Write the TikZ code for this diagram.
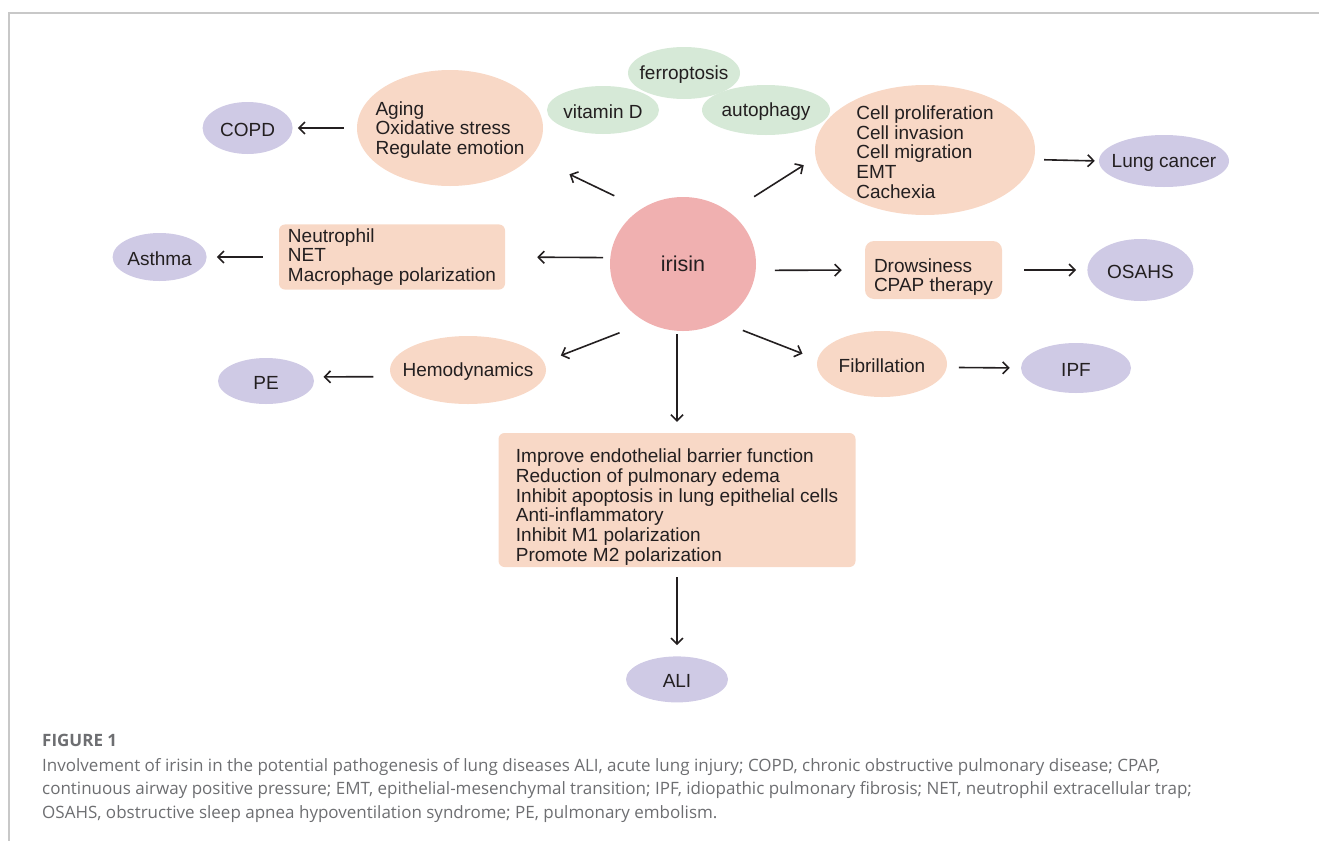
\documentclass[tikz,border=0pt]{standalone}
\usepackage{fontspec}
\setmainfont{Liberation Sans}
\newfontfamily\capfont{Open Sans}
\usepackage{xcolor}
\usetikzlibrary{positioning}
\usetikzlibrary{shapes}
\usetikzlibrary{arrows.meta}
\tikzset{>={Straight Barb[length=6pt,width=12pt]}}
\definecolor{illcol}{HTML}{CFCAE5}
\definecolor{effcol}{HTML}{F8D8C6}
\definecolor{routecol}{HTML}{D6E9D7}
\definecolor{hubcol}{HTML}{F0B0B0}
\definecolor{ink}{HTML}{231F20}
\definecolor{rulecol}{HTML}{C8C8C8}
\definecolor{capgray}{HTML}{6D6E71}

\begin{document}
\begin{tikzpicture}[
            x=1pt, y=-1pt,
            font=\fontsize{19pt}{19.7pt}\selectfont, text=ink,
            every label/.append style={align=left, yshift=-2pt},
            ill/.style 2 args={ellipse, fill=illcol, minimum width=#1, minimum height=#2, inner sep=0pt},
            eff/.style 2 args={ellipse, fill=effcol, minimum width=#1, minimum height=#2, inner sep=0pt},
            route/.style 2 args={ellipse, fill=routecol, minimum width=#1, minimum height=#2, inner sep=0pt},
            effbox/.style={rectangle, rounded corners=6pt, fill=effcol, align=left, inner sep=4pt},
            link/.style={->, line width=1.6pt, ink}
        ]
        \useasboundingbox (0,0) rectangle (1319,841);
        \draw[rulecol, line width=1.2pt] (1319,13) -- (9,13) -- (9,841);
        \node[ellipse, fill=hubcol, minimum width=146, minimum height=134, inner sep=0pt, font=\fontsize{21.5pt}{22pt}\selectfont] (irisin) at (683,264) {irisin};
        \node[eff={186}{116}, label={center:Aging\\Oxidative stress\\Regulate emotion}] (aging) at (450,128) {};
        \node[ill={90}{52}, left=64pt of aging, label=center:COPD] (copd) {};
        \node[route={112}{52}, label=center:ferroptosis] (ferro) at (684,73) {};
        \node[route={112}{48}, label=center:vitamin D] (vitd) at (603,110) {};
        \node[route={128}{50}, label=center:autophagy] (autoph) at (766,110) {};
        \node[eff={220}{130}, label={center:Cell proliferation\\Cell invasion\\Cell migration\\EMT\\Cachexia}] (cell) at (925,150) {};
        \node[ill={130}{52}, label=center:Lung cancer] (lung) at (1164,161) {};
        \node[effbox, minimum width=226, minimum height=63] (neutro) at (392,257) {Neutrophil\\NET\\Macrophage polarization};
        \node[ill={94}{48}, left=72pt of neutro, label=center:Asthma] (asthma) {};
        \node[effbox, rounded corners=9pt, minimum width=137, minimum height=58, label={[yshift=-5pt]center:Drowsiness\\CPAP therapy}] (drowsy) at (933.5,270) {};
        \node[ill={106}{62}, right=85pt of drowsy, label=center:OSAHS] (osahs) {};
        \node[eff={156}{68}, label=center:Hemodynamics] (hemo) at (468,370) {};
        \node[ill={96}{46}, label=center:PE] (pe) at (266,381) {};
        \node[eff={130}{66}, label=center:Fibrillation] (fib) at (882,364) {};
        \node[ill={110}{50}, label=center:IPF] (ipf) at (1076,368) {};
        \node[effbox, minimum width=357, minimum height=134, label={[yshift=-5pt]center:Improve endothelial barrier function\\Reduction of pulmonary edema\\Inhibit apoptosis in lung epithelial cells\\Anti-inflammatory\\Inhibit M1 polarization\\Promote M2 polarization}] (lungcare) at (677,500) {};
        \node[ill={102}{46}, below=89pt of lungcare, label=center:ALI] (ali) {};
        \path[link] (irisin.127) edge[shorten <=30pt, shorten >=42pt] (aging.-19);
        \path[link] (aging.west) edge[shorten <=13pt, shorten >=5pt] (copd.east);
        \path[link] (irisin.175) edge[shorten <=7pt, shorten >=32pt] (neutro.east);
        \path[link] (neutro.west) edge[shorten <=16pt, shorten >=10pt] (asthma.east);
        \path[link] (irisin.48) edge[shorten <=29pt, shorten >=14pt] (cell.184);
        \path[link] (cell.-5) edge[shorten <=10pt, shorten >=4pt] (lung.west);
        \path[link] (irisin.-5) edge[shorten <=19pt, shorten >=23pt] (drowsy.west);
        \path[link] (drowsy.east) edge[shorten <=22pt, shorten >=11pt] (osahs.west);
        \path[link] (irisin.-57) edge[shorten <=24pt, shorten >=16pt] (fib.176);
        \path[link] (fib.-3) edge[shorten <=12pt, shorten >=11pt] (ipf.west);
        \path[link] (irisin.-122) edge[shorten <=29pt, shorten >=18pt] (hemo.6);
        \path[link] (hemo.185) edge[shorten <=18pt, shorten >=10pt] (pe.5);
        \path[link] (irisin.south -| lungcare.north) edge[shorten <=3pt, shorten >=11pt] (lungcare.north);
        \path[link] (lungcare.south) edge[shorten <=10pt, shorten >=11pt] (ali.north);
        \node[anchor=west, inner sep=0pt, text=capgray, font=\capfont\bfseries\fontsize{17pt}{20pt}\selectfont] (figlabel) at (42,740) {FIGURE 1};
        \node[anchor=north west, inner sep=0pt, align=left, text=capgray, font=\capfont\fontsize{17pt}{23.5pt}\selectfont] (caption) at (42,758) {Involvement of irisin in the potential pathogenesis of lung diseases ALI, acute lung injury; COPD, chronic obstructive pulmonary disease; CPAP,\\continuous airway positive pressure; EMT, epithelial-mesenchymal transition; IPF, idiopathic pulmonary fibrosis; NET, neutrophil extracellular trap;\\OSAHS, obstructive sleep apnea hypoventilation syndrome; PE, pulmonary embolism.};
        \end{tikzpicture}
\end{document}
